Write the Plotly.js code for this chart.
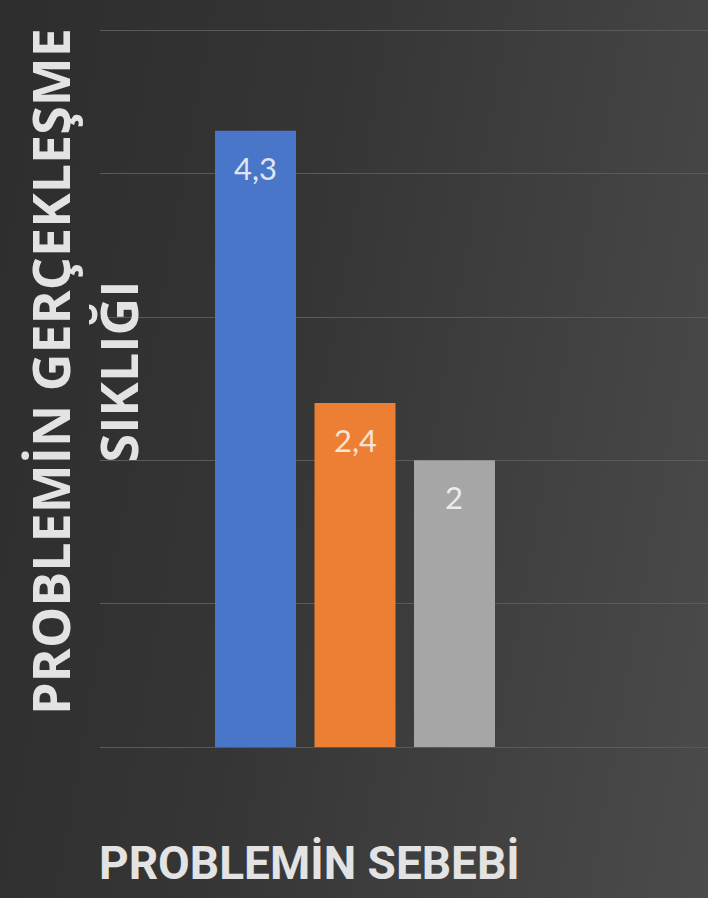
<!DOCTYPE html>
<html>
<head>
<meta charset="utf-8">
<script src="https://cdn.plot.ly/plotly-3.0.1.min.js"></script>
<style>
  html, body { margin: 0; padding: 0; }
  body { width: 708px; height: 898px; background: linear-gradient(100deg, #2d2d2d 0%, #353535 40%, #4b4b4b 100%); }
  #chart { width: 708px; height: 898px; }
</style>
</head>
<body>
<div id="chart"></div>
<script>
// Data
const categories = ["Sebep 1", "Sebep 2", "Sebep 3"];
const values = [4.3, 2.4, 2];
const barColors = ["#4a76c9", "#ec7f33", "#a6a6a6"];
const labelColors = ["#dfe5f2", "#f7e4d4", "#ececec"];
const yTickValues = [0, 1, 2, 3, 4, 5];
const yTitle = "PROBLEM\u0130N GER\u00C7EKLE\u015EME<br>SIKLI\u011EI";
const xTitle = "PROBLEM\u0130N SEBEB\u0130";

const fmt = v => String(v).replace('.', ',');

const trace = {
  type: 'bar',
  x: categories,
  y: values,
  marker: { color: barColors, line: { width: 0 } },
  hoverinfo: 'x+y',
  showlegend: false
};

const labelAnnotations = categories.map((c, i) => ({
  x: c, y: values[i], xref: 'x', yref: 'y',
  text: fmt(values[i]),
  showarrow: false,
  xanchor: 'center', yanchor: 'middle',
  yshift: -37,
  font: { family: 'Lato, "Open Sans", sans-serif', size: 31, color: labelColors[i] }
}));

const layout = {
  width: 708, height: 898,
  margin: { l: 100, r: 0, t: 29, b: 151, pad: 0 },
  paper_bgcolor: 'rgba(0,0,0,0)',
  plot_bgcolor: 'rgba(0,0,0,0)',
  bargap: 0.186,
  xaxis: {
    type: 'category',
    range: [-1.563, 4.548],
    showticklabels: false,
    showgrid: false,
    zeroline: false,
    showline: false,
    ticks: ''
  },
  yaxis: {
    range: [0, 5.01],
    tickvals: yTickValues,
    showticklabels: false,
    showgrid: true,
    gridcolor: '#5a5a5a',
    gridwidth: 1,
    zeroline: true,
    zerolinecolor: '#5a5a5a',
    zerolinewidth: 1,
    showline: false,
    ticks: ''
  },
  annotations: labelAnnotations.concat([
    {
      xref: 'paper', yref: 'paper',
      x: -0.027, y: 0.523,
      xanchor: 'center', yanchor: 'middle',
      textangle: -90,
      text: '<b>' + yTitle + '</b>',
      showarrow: false,
      font: { family: '"Open Sans", "Noto Sans", sans-serif', size: 52, color: '#e3e3e3' }
    },
    {
      xref: 'paper', yref: 'paper',
      x: 0.345, y: -0.162,
      xanchor: 'center', yanchor: 'middle',
      text: '<b>' + xTitle + '</b>',
      showarrow: false,
      font: { family: 'Roboto, "Open Sans", sans-serif', size: 46, color: '#e3e3e3' }
    }
  ])
};

Plotly.newPlot('chart', [trace], layout, { displayModeBar: false, staticPlot: true });
</script>
</body>
</html>
